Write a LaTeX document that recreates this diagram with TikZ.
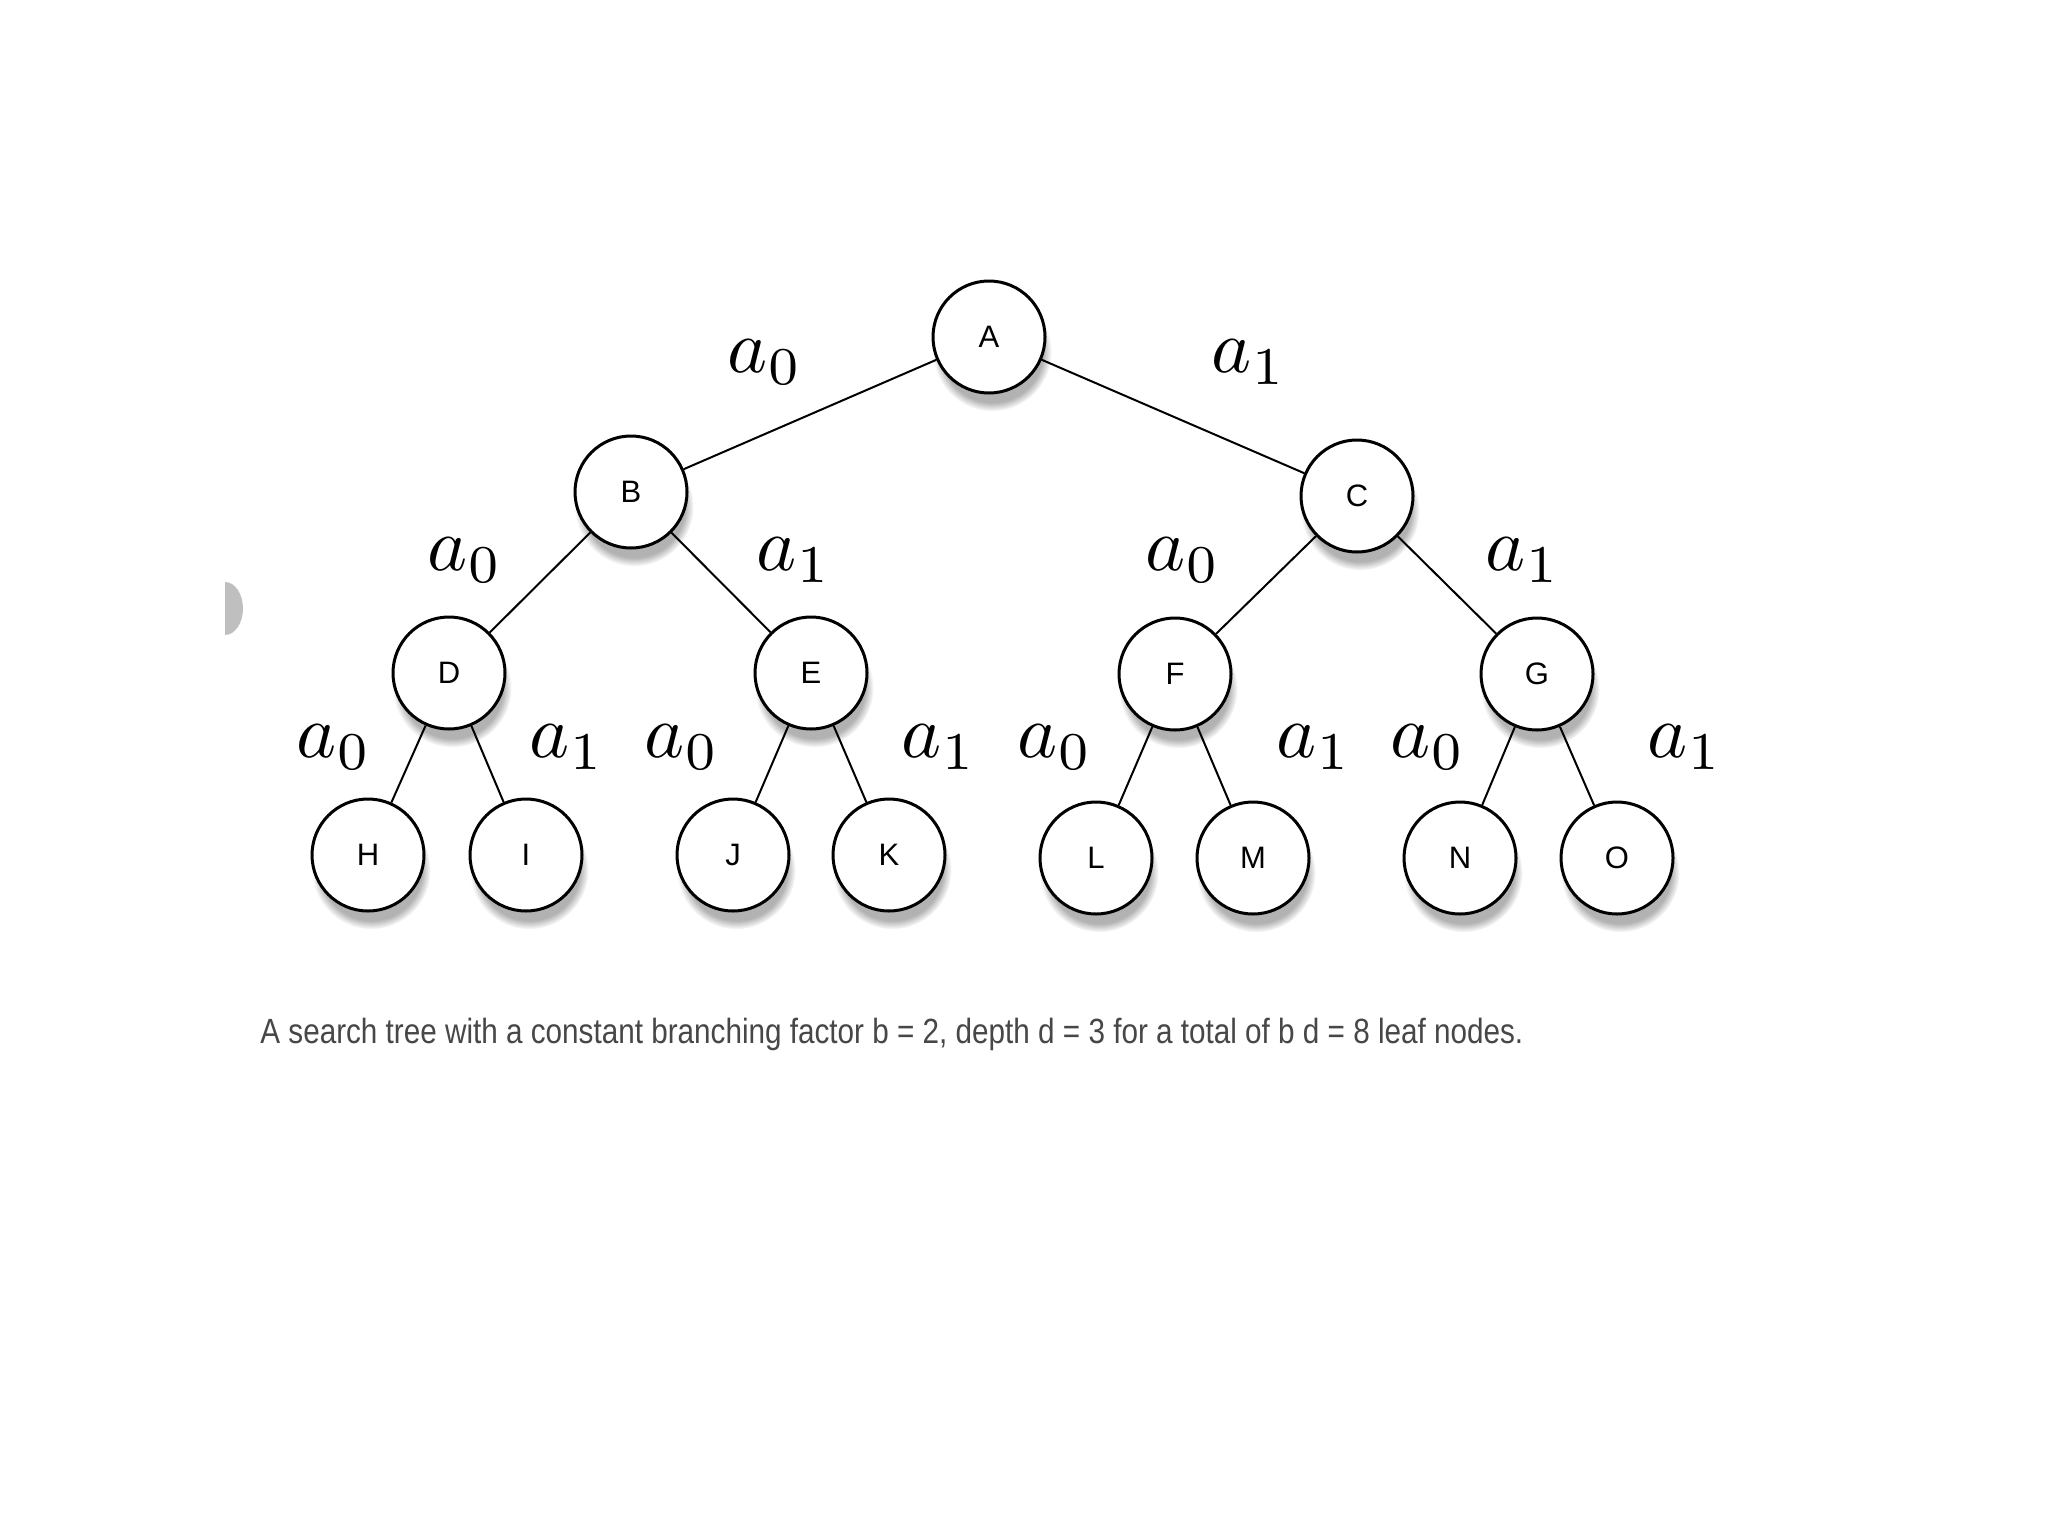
\documentclass[tikz,border=0pt]{standalone}
\usepackage{fontspec}
\usepackage{graphicx}
\newfontfamily\capfont{Liberation Sans}
\usetikzlibrary{shadows}
\definecolor{capgray}{HTML}{474747}
\newcommand{\actlbl}[1]{\scalebox{3.8}{$a_{#1}$}}
\tikzset{
  treenode/.style={circle, draw=black, line width=1.5pt, fill=white, minimum size=56pt, inner sep=0pt,
    font=\capfont\fontsize{15.5}{16}\selectfont,
    circular drop shadow={shadow xshift=1.5pt, shadow yshift=-7pt, shadow scale=1.06, opacity=0.6}},
  edge/.style={draw=black, line width=1pt},
  lbl/.style={inner sep=0pt},
}
\begin{document}
\begin{tikzpicture}[x=0.5pt, y=-0.5pt]
\useasboundingbox (0,0) rectangle (2048,1536);
\fill[white] (0,0) rectangle (2048,1536);
% gray half disc at left
\begin{scope}
\clip (225,560) rectangle (270,660);
\fill[gray!50] (225,608.5) ellipse [x radius=18, y radius=26.5];
\end{scope}
% nodes
\node[treenode] (A) at (989,337) {A};
\node[treenode] (B) at (631,492) {B};
\node[treenode] (C) at (1357,496) {C};
\node[treenode] (D) at (449,673) {D};
\node[treenode] (E) at (811,673) {E};
\node[treenode] (F) at (1175,674) {F};
\node[treenode] (G) at (1537,674) {G};
\node[treenode] (H) at (368,855) {H};
\node[treenode] (I) at (526,855) {I};
\node[treenode] (J) at (733,855) {J};
\node[treenode] (K) at (889,855) {K};
\node[treenode] (L) at (1096,858) {L};
\node[treenode] (M) at (1253,858) {M};
\node[treenode] (N) at (1460,858) {N};
\node[treenode] (O) at (1617,858) {O};
% edges
\draw[edge] (A) -- (B);
\draw[edge] (A) -- (C);
\draw[edge] (B) -- (D);
\draw[edge] (B) -- (E);
\draw[edge] (C) -- (F);
\draw[edge] (C) -- (G);
\draw[edge] (D) -- (H);
\draw[edge] (D) -- (I);
\draw[edge] (E) -- (J);
\draw[edge] (E) -- (K);
\draw[edge] (F) -- (L);
\draw[edge] (F) -- (M);
\draw[edge] (G) -- (N);
\draw[edge] (G) -- (O);
% labels
\node[lbl] (l1) at (765,362) {\actlbl{0}};
\node[lbl] (l2) at (1249,362) {\actlbl{1}};
\node[lbl] (l3) at (465,560) {\actlbl{0}};
\node[lbl] (l4) at (794,560) {\actlbl{1}};
\node[lbl] (l5) at (1183,560) {\actlbl{0}};
\node[lbl] (l6) at (1523,560) {\actlbl{1}};
\node[lbl] (l7) at (334,747) {\actlbl{0}};
\node[lbl] (l8) at (567,747) {\actlbl{1}};
\node[lbl] (l9) at (682,747) {\actlbl{0}};
\node[lbl] (l10) at (939,747) {\actlbl{1}};
\node[lbl] (l11) at (1055,747) {\actlbl{0}};
\node[lbl] (l12) at (1314,747) {\actlbl{1}};
\node[lbl] (l13) at (1428,747) {\actlbl{0}};
\node[lbl] (l14) at (1685,747) {\actlbl{1}};
% caption
\node[anchor=base west, inner sep=0pt, text=capgray, font=\capfont\fontsize{17.5}{20}\selectfont] (cap) at (260,1043)
  {\resizebox{631.5pt}{\height}{A search tree with a constant branching factor b = 2, depth d = 3 for a total of b d = 8 leaf nodes.}};
\end{tikzpicture}
\end{document}
